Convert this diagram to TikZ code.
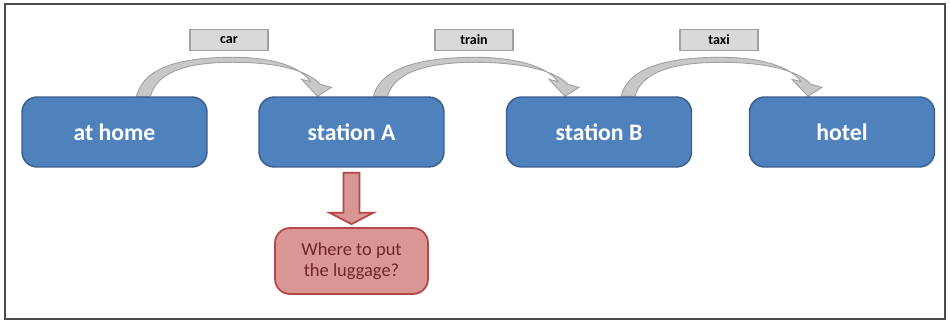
\documentclass[tikz,border=0pt]{standalone}
\usepackage{fontspec}
\setmainfont{Carlito}
\usetikzlibrary{calc,backgrounds}

\definecolor{boxblue}{RGB}{79,129,189}
\definecolor{boxedge}{RGB}{56,93,138}
\definecolor{modefill}{RGB}{217,217,217}
\definecolor{modeedge}{RGB}{160,160,160}
\definecolor{ridefill}{RGB}{200,200,200}
\definecolor{rideedge}{RGB}{160,160,160}
\definecolor{notefill}{RGB}{217,150,148}
\definecolor{noteedge}{RGB}{180,72,70}
\definecolor{notetext}{RGB}{110,40,38}

\begin{document}
\begin{tikzpicture}[x=0.02cm, y=-0.02cm,
  place/.style={rectangle, rounded corners=0.3cm, minimum width=3.7cm, minimum height=1.4cm, text centered, draw=boxedge, line width=0.8pt, fill=boxblue, text=white, font=\fontsize{13.5}{16}\selectfont\bfseries},
  mode/.style={rectangle, minimum width=1.56cm, minimum height=0.42cm, inner sep=0pt, text centered, draw=modeedge, line width=1pt, fill=modefill, font=\fontsize{8}{9}\selectfont\bfseries},
  note/.style={rectangle, rounded corners=0.3cm, minimum width=3.06cm, minimum height=1.32cm, align=center, draw=noteedge, line width=1pt, fill=notefill, text=notetext, font=\fontsize{10.5}{12}\selectfont},
  ride/.style={fill=ridefill, draw=rideedge, line width=0.5pt},
  drop/.style={fill=notefill, draw=noteedge, line width=1pt, line join=miter}
]
\useasboundingbox (0,0) rectangle (950,321);

% Frame
\draw[black!70, line width=0.8pt] (5,4) rectangle (945,319);

% Places
\node[place] (home) at (114.5,132) {at home};
\node[place] (staA) at (351.5,132) {station A};
\node[place] (staB) at (599,132) {station B};
\node[place] (hotel) at (842,132) {hotel};

% Means of transport
\node[mode] (car) at (229,40) {car};
\node[mode] (train) at (474,40) {train};
\node[mode] (taxi) at (719,40) {taxi};

% Question
\node[note] (question) at (351.5,261) {Where to put\\the luggage?};

% Curved arrows
\begin{scope}[on background layer]
\foreach \a/\b in {home/staA, staA/staB, staB/hotel}{
  \draw[ride] ($(\a.north)+(22,0)$) .. controls ($(\a.north)+(30,-32)$) and ($(\a.north)!0.5!(\b.north)+(-45,-39)$) .. ($(\a.north)!0.5!(\b.north)+(0,-39)$)
    .. controls ($(\a.north)!0.5!(\b.north)+(40,-39)$) and ($(\b.north)+(-52,-30)$) .. ($(\b.north)+(-41,-14.7)$)
    -- ($(\b.north)+(-50,-17)$) -- ($(\b.north)+(-34,0)$) -- ($(\b.north)+(-20,-9)$) -- ($(\b.north)+(-31,-11.9)$)
    .. controls ($(\b.north)+(-45,-27)$) and ($(\a.north)!0.5!(\b.north)+(42,-34)$) .. ($(\a.north)!0.5!(\b.north)+(0,-34)$)
    .. controls ($(\a.north)!0.5!(\b.north)+(-40,-34)$) and ($(\a.north)+(43,-27)$) .. ($(\a.north)+(36,0)$) -- cycle;
}
\end{scope}

% Down arrow
\draw[drop] ($(staA.south)+(-8,5)$) -- ++(16,0) -- ++(0,40) -- ++(14,0) -- ($(question.north)+(0,-3)$) -- ($(staA.south)+(-22,45)$) -- ++(14,0) -- cycle;

\end{tikzpicture}
\end{document}
